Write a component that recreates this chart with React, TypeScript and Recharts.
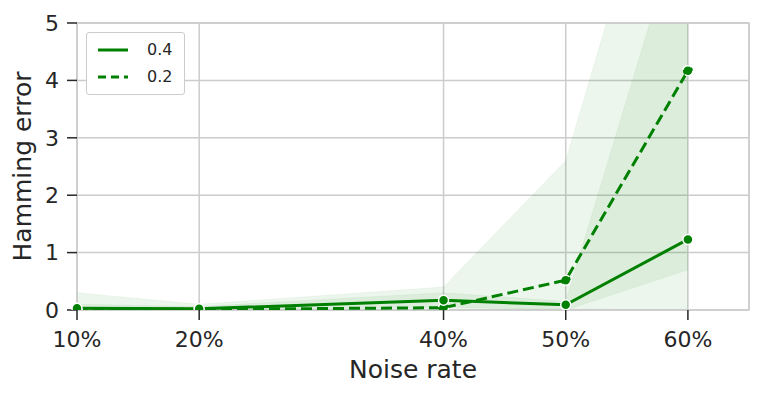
import {
  Area,
  CartesianGrid,
  ComposedChart,
  Line,
  ReferenceArea,
  XAxis,
  YAxis,
} from "recharts"

const noiseRates = [10, 20, 40, 50, 60]
const xTicks = [10, 20, 40, 50, 60]
const yTicks = [0, 1, 2, 3, 4, 5]

// mean hamming error per noise rate
const err04 = [0.03, 0.02, 0.17, 0.09, 1.23]
const err02 = [0.02, 0.01, 0.04, 0.52, 4.17]

// confidence bands
const band04Low = [0, 0, 0.05, 0, 0.7]
const band04High = [0.1, 0.06, 0.3, 0.15, 7.2]
const band02Low = [0, 0, 0, 0.02, 0]
const band02High = [0.3, 0.1, 0.4, 2.6, 9.8]

const legendLabels = ["0.4", "0.2"]

const GREEN = "#008000"
const INK = "#262626"
const GRID = "#cccccc"
const FONT = "DejaVu Sans"

const rows = noiseRates.map((x, i) => ({
  x,
  e04: err04[i],
  e02: err02[i],
  b04: [band04Low[i], band04High[i]],
  b02: [band02Low[i], band02High[i]],
}))

function LegendBox() {
  return (
    <div
      style={{
        position: "absolute",
        left: 86,
        top: 32,
        border: "1px solid #cccccc",
        borderRadius: 3,
        background: "#fff",
        padding: "3px 12px 4px 10px",
        fontFamily: FONT,
        fontSize: 16,
        color: INK,
      }}
    >
      {legendLabels.map((label, i) => (
        <div key={label} style={{ display: "flex", alignItems: "center", height: 27 }}>
          <svg width={32} height={10} style={{ marginRight: 18 }}>
            <line
              x1={1}
              y1={5}
              x2={31}
              y2={5}
              stroke={GREEN}
              strokeWidth={3}
              strokeDasharray={i === 1 ? "8 5" : undefined}
            />
          </svg>
          <span>{label}</span>
        </div>
      ))}
    </div>
  )
}

export default function App() {
  const dot = { r: 5, fill: GREEN, stroke: "#fff", strokeWidth: 1.5 }
  return (
    <div style={{ position: "absolute", left: 0, top: 0, width: 762, height: 396, background: "#fff" }}>
      <ComposedChart
        width={762}
        height={396}
        data={rows}
        margin={{ top: 23, right: 13, bottom: 0, left: 0 }}
      >
        <CartesianGrid stroke={GRID} strokeWidth={1.5} />
        <XAxis
          type="number"
          dataKey="x"
          domain={[10, 65]}
          ticks={xTicks}
          tickFormatter={(v) => `${v}%`}
          height={86}
          axisLine={false}
          tickLine={{ stroke: INK, strokeWidth: 1.5 }}
          tickSize={10}
          tickMargin={11}
          tick={{ fill: INK, fontSize: 22, fontFamily: FONT }}
          interval={0}
          label={{
            value: "Noise rate",
            position: "insideBottom",
            offset: 18,
            style: { fill: INK, fontSize: 25, fontFamily: FONT },
          }}
        />
        <YAxis
          type="number"
          domain={[0, 5]}
          ticks={yTicks}
          allowDataOverflow
          width={77}
          axisLine={false}
          tickLine={{ stroke: INK, strokeWidth: 1.5 }}
          tickSize={10}
          tickMargin={8}
          tick={{ fill: INK, fontSize: 22, fontFamily: FONT }}
          interval={0}
          label={{
            value: "Hamming error",
            angle: -90,
            position: "insideLeft",
            dx: 17.5,
            style: { fill: INK, fontSize: 25, fontFamily: FONT, textAnchor: "middle" },
          }}
        />
        <Area
          type="linear"
          dataKey="b02"
          stroke={GREEN}
          strokeOpacity={0.05}
          fill={GREEN}
          fillOpacity={0.07}
          isAnimationActive={false}
        />
        <Area
          type="linear"
          dataKey="b04"
          stroke={GREEN}
          strokeOpacity={0.05}
          fill={GREEN}
          fillOpacity={0.07}
          isAnimationActive={false}
        />
        <ReferenceArea x1={10} x2={65} y1={0} y2={5} fill="none" stroke={GRID} strokeWidth={1.5} />
        <Line
          type="linear"
          dataKey="e02"
          stroke={GREEN}
          strokeWidth={3}
          strokeDasharray="11 5"
          dot={dot}
          isAnimationActive={false}
        />
        <Line
          type="linear"
          dataKey="e04"
          stroke={GREEN}
          strokeWidth={3}
          dot={dot}
          isAnimationActive={false}
        />
      </ComposedChart>
      <LegendBox />
    </div>
  )
}
